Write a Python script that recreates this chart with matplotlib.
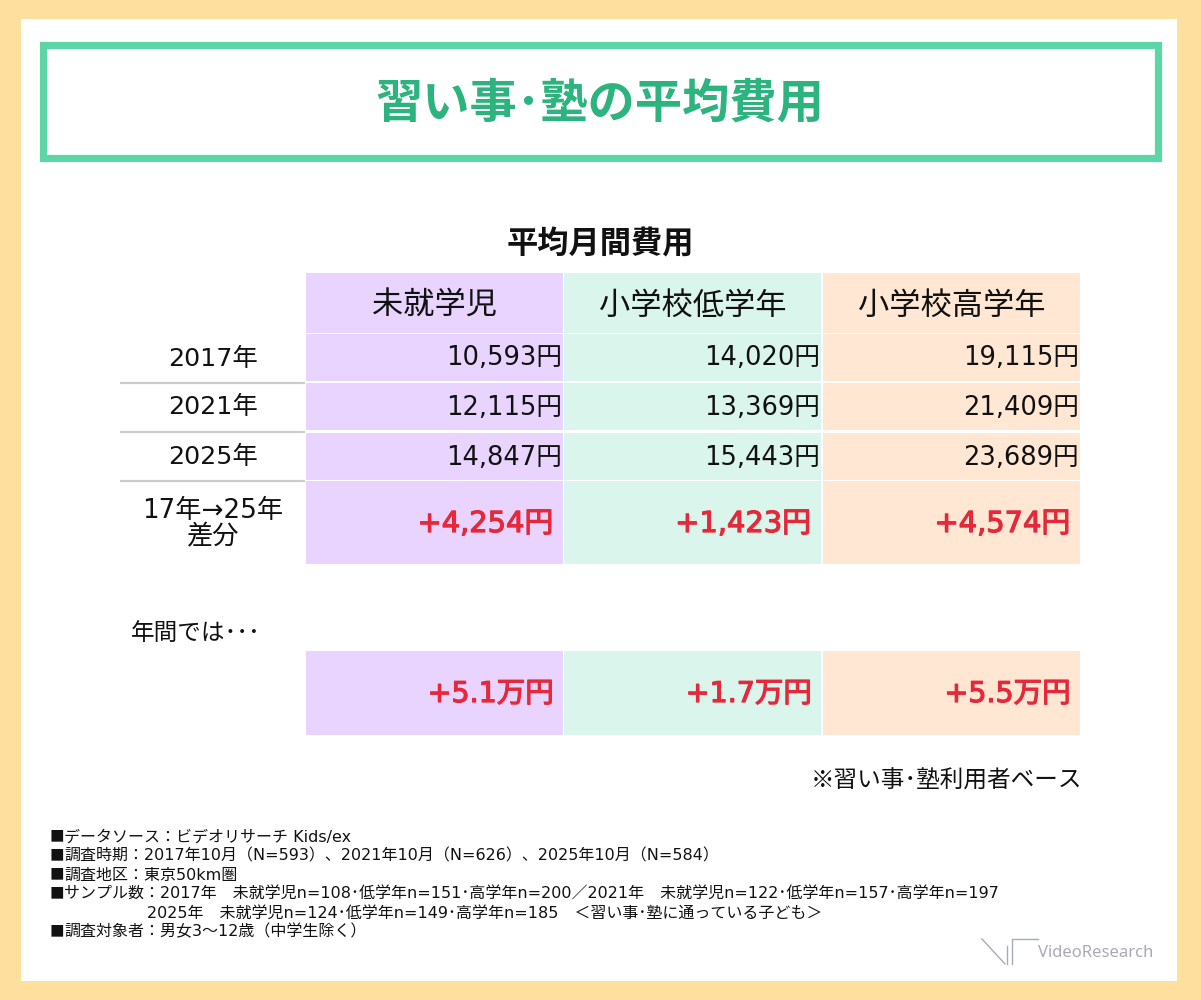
import matplotlib
matplotlib.use("Agg")
import matplotlib.pyplot as plt
import matplotlib.patheffects as pe
from matplotlib.patches import Rectangle

plt.rcParams['font.family'] = ['Noto Sans CJK JP', 'DejaVu Sans']
# wider latin digits, CJK falls back to Noto
NUM_FONT = ['DejaVu Sans', 'Noto Sans CJK JP']

# data
title = "習い事･塾の平均費用"
subtitle = "平均月間費用"
groups = ["未就学児", "小学校低学年", "小学校高学年"]
years = ["2017年", "2021年", "2025年"]
cost_2017 = [10593, 14020, 19115]
cost_2021 = [12115, 13369, 21409]
cost_2025 = [14847, 15443, 23689]
diff_17_25 = [4254, 1423, 4574]
annual_diff_man = [5.1, 1.7, 5.5]
diff_label = "17年→25年\n差分"
annual_label = "年間では･･･"
base_note = "※習い事･塾利用者ベース"
footnotes = [
    "■データソース：ビデオリサーチ Kids/ex",
    "■調査時期：2017年10月（N=593）、2021年10月（N=626）、2025年10月（N=584）",
    "■調査地区：東京50km圏",
    "■サンプル数：2017年　未就学児n=108･低学年n=151･高学年n=200／2021年　未就学児n=122･低学年n=157･高学年n=197",
    "2025年　未就学児n=124･低学年n=149･高学年n=185　＜習い事･塾に通っている子ども＞",
    "■調査対象者：男女3～12歳（中学生除く）",
]

# colors
bg_yellow = "#FFDF9E"
green_line = "#5DD6A7"
green_text = "#2DB37E"
col_colors = ["#E9D4FF", "#DAF5EC", "#FFE7D4"]
red = "#E5283A"
sep_gray = "#CCCCCC"
ink = "#111111"

fig = plt.figure(figsize=(12.01, 10), dpi=100, facecolor=bg_yellow)
ax = fig.add_axes([0, 0, 1, 1])
ax.set_xlim(0, 1201)
ax.set_ylim(1000, 0)
ax.axis("off")

# white panel and title frame
ax.add_patch(Rectangle((21, 19), 1156, 962, facecolor="white", edgecolor="none"))
ax.add_patch(Rectangle((43, 44.5), 1115, 113, facecolor="white",
                       edgecolor=green_line, linewidth=5.2))
ax.text(600, 103, title, ha="center", va="center", fontsize=34,
        fontweight="bold", color=green_text)
ax.text(600, 244, subtitle, ha="center", va="center", fontsize=22.5,
        fontweight="bold", color=ink)

# table layout
col_left = [306, 564, 823]
col_w = 257
label_x0, label_x1 = 120, 305
label_cx = 213
header_top, header_bot = 273, 333
row_tops = [334, 383, 433]
row_h = 47
diff_top, diff_bot = 481, 564
thick = [pe.withStroke(linewidth=0.9, foreground=red)]

for j, g in enumerate(groups):
    x0 = col_left[j]
    ax.add_patch(Rectangle((x0, header_top), col_w, header_bot - header_top,
                           facecolor=col_colors[j], edgecolor="none"))
    ax.text(x0 + col_w / 2, 306, g, ha="center", va="center", fontsize=22.5,
            color=ink)
    for i, vals in enumerate([cost_2017, cost_2021, cost_2025]):
        top = row_tops[i]
        ax.add_patch(Rectangle((x0, top), col_w, row_h,
                               facecolor=col_colors[j], edgecolor="none"))
        ax.text(x0 + col_w - 1, top + row_h / 2 + 1, f"{vals[j]:,}円",
                ha="right", va="center", fontsize=18.5, color=ink,
                family=NUM_FONT)
    ax.add_patch(Rectangle((x0, diff_top), col_w, diff_bot - diff_top,
                           facecolor=col_colors[j], edgecolor="none"))
    ax.text(x0 + col_w - 10, 524, f"+{diff_17_25[j]:,}円", ha="right",
            va="center", fontsize=20.8, color=red, family=NUM_FONT,
            path_effects=thick)

    # annual table
    ax.add_patch(Rectangle((x0, 651), col_w, 84,
                           facecolor=col_colors[j], edgecolor="none"))
    ax.text(x0 + col_w - 9, 694, f"+{annual_diff_man[j]}万円", ha="right",
            va="center", fontsize=20.5, color=red, family=NUM_FONT,
            path_effects=thick)

for i, y in enumerate(years):
    top = row_tops[i]
    ax.text(label_cx, top + row_h / 2 + 1, y, ha="center", va="center",
            fontsize=18.3, color=ink, family=NUM_FONT)
for ysep in [383, 432, 481]:
    ax.plot([label_x0, label_x1], [ysep, ysep], color=sep_gray, lw=1.6,
            solid_capstyle="butt")
ax.text(label_cx, 524, diff_label, ha="center", va="center", fontsize=18.9,
        color=ink, linespacing=1.05, family=NUM_FONT)

ax.text(131, 633, annual_label, ha="left", va="center", fontsize=17,
        color=ink)
ax.text(1082, 781, base_note, ha="right", va="center", fontsize=17,
        color=ink)

# footnotes: the square bullet from the CJK font, rest with wider digits
foot_y = [837, 856, 875, 894, 913, 932]
foot_size = 11.5
for k, line in enumerate(footnotes):
    if line.startswith("■"):
        ax.text(50, foot_y[k], "■", ha="left", va="center",
                fontsize=foot_size - 1, color=ink,
                family=['Noto Sans CJK JP'])
        ax.text(64, foot_y[k], line[1:], ha="left", va="center",
                fontsize=foot_size, color=ink, family=NUM_FONT)
    else:
        ax.text(147, foot_y[k], line, ha="left", va="center",
                fontsize=foot_size, color=ink, family=NUM_FONT)

# logo
logo_gray = "#A8AAB8"
ax.plot([982, 1005], [939, 964], color=logo_gray, lw=1)
ax.plot([1007, 1007], [946, 964], color=logo_gray, lw=1)
ax.plot([1012, 1012, 1038], [964, 939, 939], color=logo_gray, lw=1)
ax.text(1038, 953, "VideoResearch", ha="left", va="center", fontsize=12,
        family=["Noto Sans", "DejaVu Sans"], color=logo_gray)

fig.savefig("out.png", dpi=100, facecolor=bg_yellow)
